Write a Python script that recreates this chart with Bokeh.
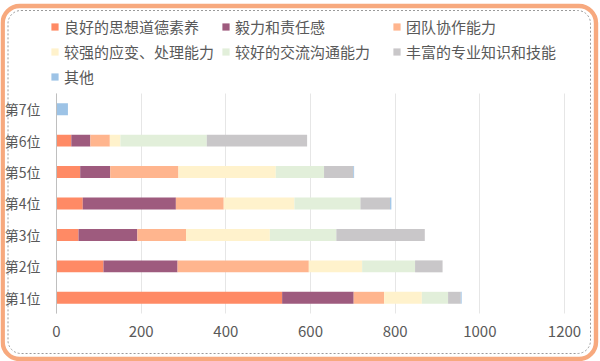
from bokeh.plotting import figure
from bokeh.models import (ColumnDataSource, Range1d, Legend, LegendItem, FixedTicker,
                          BoxAnnotation, Grid)
from bokeh.embed import file_html
from bokeh.resources import INLINE

categories = ["第1位", "第2位", "第3位", "第4位", "第5位", "第6位", "第7位"]
series_names = ["良好的思想道德素养", "毅力和责任感", "团队协作能力",
                "较强的应变、处理能力", "较好的交流沟通能力", "丰富的专业知识和技能", "其他"]
s_moral = [533, 111, 52, 62, 56, 35, 0]
s_persist = [169, 175, 139, 220, 71, 45, 0]
s_team = [72, 310, 115, 113, 161, 46, 0]
s_adapt = [89, 126, 198, 167, 230, 25, 0]
s_comm = [62, 125, 157, 156, 114, 204, 0]
s_skill = [30, 65, 209, 70, 69, 237, 0]
s_other = [2, 0, 0, 3, 2, 0, 27]
x_ticks = [0, 200, 400, 600, 800, 1000, 1200]
colors = ["#FF8A65", "#9E5B7E", "#FFB58E", "#FFF2CC", "#E2EFDA", "#C9C7C9", "#9DC3E6"]

FONT = "Noto Sans CJK SC"
TXT = "#595959"

positions = [i + 1 for i in range(len(categories))]
data = {"pos": positions}
for name, vals in zip(series_names, [s_moral, s_persist, s_team, s_adapt, s_comm, s_skill, s_other]):
    data[name] = vals
source = ColumnDataSource(data)

W, H = 600, 361
p = figure(width=W, height=H, output_backend="svg", toolbar_location=None,
           x_range=Range1d(-132.28, 1285.04), y_range=Range1d(-1.0273, 10.4591),
           min_border=0)

renderers = p.hbar_stack(series_names, y="pos", height=0.38, color=colors, source=source,
                         line_color=None)

p.outline_line_color = None
p.ygrid.visible = False
p.xgrid.visible = False
xg = Grid(dimension=0, ticker=FixedTicker(ticks=x_ticks), grid_line_color="#E6E6E6")
if "cross_bounds" in Grid.properties():
    xg.cross_bounds = (0.5, 7.5)
p.add_layout(xg)

p.xaxis.ticker = FixedTicker(ticks=x_ticks)
p.xaxis.fixed_location = 0.5
p.xaxis.axis_line_color = None
p.xaxis.major_tick_line_color = None
p.xaxis.minor_tick_line_color = None
p.xaxis.major_label_standoff = 7
p.xaxis.major_label_text_font_size = "15px"

p.yaxis.ticker = FixedTicker(ticks=positions)
p.yaxis.major_label_overrides = {pos: lab for pos, lab in zip(positions, categories)}
p.yaxis.fixed_location = 0
p.yaxis.bounds = (0.5, 7.5)
p.yaxis.axis_line_color = "#BFBFBF"
p.yaxis.major_tick_line_color = None
p.yaxis.minor_tick_line_color = None
p.yaxis.major_label_standoff = 10
p.yaxis.major_label_text_font_size = "14px"
for ax in (p.xaxis[0], p.yaxis[0]):
    ax.major_label_text_font = FONT
    ax.major_label_text_color = TXT

items = [LegendItem(label=n, renderers=[r]) for n, r in zip(series_names, renderers)]
legend = Legend(items=items, ncols=3, location=(50, 274), orientation="horizontal",
                glyph_width=9, glyph_height=9, label_standoff=5, label_width=153,
                label_height=19, spacing=4, padding=0, margin=0,
                border_line_color=None, background_fill_alpha=0,
                label_text_font=FONT, label_text_font_size="15px", label_text_color=TXT)
p.add_layout(legend)

outer = BoxAnnotation(left=2.2, right=595.5, bottom=2.5, top=355.5,
                      left_units="screen", right_units="screen",
                      bottom_units="screen", top_units="screen",
                      fill_alpha=0, line_color="#F7A97E", line_alpha=1, line_width=4.4,
                      border_radius=17)
inner = BoxAnnotation(left=7.5, right=590, bottom=8, top=351,
                      left_units="screen", right_units="screen",
                      bottom_units="screen", top_units="screen",
                      fill_alpha=0, line_color="#9A9A9A", line_alpha=1, line_width=1,
                      line_dash="2 2", border_radius=13)
p.add_layout(outer)
p.add_layout(inner)

open("out.html", "w").write(file_html(p, INLINE))
